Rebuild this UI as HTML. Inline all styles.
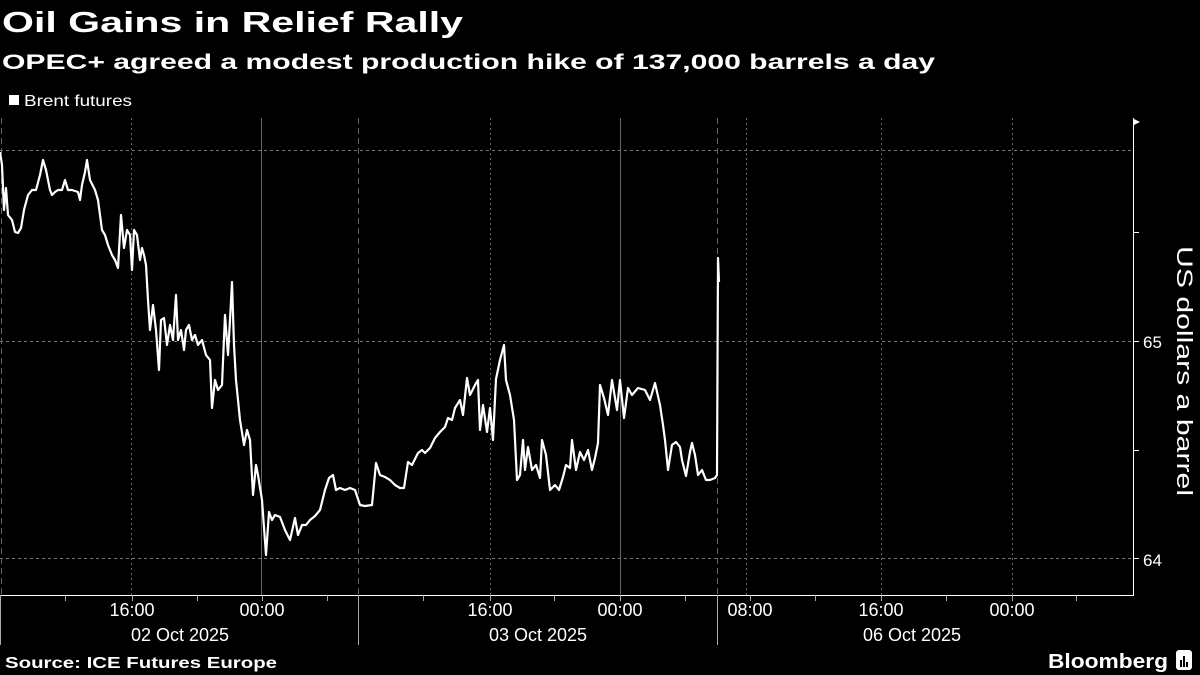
<!DOCTYPE html>
<html><head><meta charset="utf-8"><style>
html,body{margin:0;padding:0;background:#000;}
svg{display:block;font-family:"Liberation Sans",sans-serif;}
</style></head><body>
<svg width="1200" height="675" viewBox="0 0 1200 675" xmlns="http://www.w3.org/2000/svg">
<rect width="1200" height="675" fill="#000"/>
<text x="2" y="32" fill="#fff" font-size="29" font-weight="bold" textLength="461" lengthAdjust="spacingAndGlyphs">Oil Gains in Relief Rally</text>
<text x="2" y="69" fill="#fff" font-size="21" font-weight="bold" textLength="933" lengthAdjust="spacingAndGlyphs">OPEC+ agreed a modest production hike of 137,000 barrels a day</text>
<rect x="9" y="95" width="10" height="10" fill="#fff"/>
<text x="24" y="106" fill="#fff" font-size="16" textLength="108" lengthAdjust="spacingAndGlyphs">Brent futures</text>
<!-- horizontal grid -->
<g stroke="#777" stroke-width="1" stroke-dasharray="3,3">
<line x1="0" y1="150.5" x2="1133" y2="150.5"/>
<line x1="0" y1="341.5" x2="1133" y2="341.5"/>
<line x1="0" y1="558.5" x2="1133" y2="558.5"/>
</g>
<!-- vertical grid -->
<g stroke="#666" stroke-width="1">
<line x1="261.5" y1="118" x2="261.5" y2="595"/>
<line x1="620.5" y1="118" x2="620.5" y2="595"/>
</g>
<g stroke="#666" stroke-width="1" stroke-dasharray="2,3">
<line x1="131.5" y1="118" x2="131.5" y2="595"/>
<line x1="490.5" y1="118" x2="490.5" y2="595"/>
<line x1="746.5" y1="118" x2="746.5" y2="595"/>
<line x1="881.5" y1="118" x2="881.5" y2="595"/>
<line x1="1012.5" y1="118" x2="1012.5" y2="595"/>
</g>
<g stroke="#666" stroke-width="1" stroke-dasharray="6,4">
<line x1="1.5" y1="118" x2="1.5" y2="595"/>
<line x1="358.5" y1="118" x2="358.5" y2="595"/>
<line x1="717.5" y1="118" x2="717.5" y2="595"/>
</g>
<!-- axes -->
<line x1="1133.5" y1="118" x2="1133.5" y2="595" stroke="#fff"/>
<line x1="0" y1="595.5" x2="1134" y2="595.5" stroke="#fff"/>
<path d="M1134 119 L1140 122 L1134 125 Z" fill="#fff"/>
<g stroke="#fff">
<line x1="1133" y1="232.5" x2="1139" y2="232.5"/>
<line x1="1133" y1="341.5" x2="1139" y2="341.5"/>
<line x1="1133" y1="450.5" x2="1139" y2="450.5"/>
<line x1="1133" y1="558.5" x2="1139" y2="558.5"/>
</g>
<text x="1143" y="348" fill="#fff" font-size="17">65</text>
<text x="1143" y="566" fill="#fff" font-size="17">64</text>
<text transform="translate(1177,371) rotate(90)" fill="#fff" font-size="22" text-anchor="middle" textLength="250" lengthAdjust="spacingAndGlyphs">US dollars a barrel</text>
<!-- bottom ticks -->
<g stroke="#aaa">
<line x1="65.5" y1="595" x2="65.5" y2="601"/><line x1="132.5" y1="595" x2="132.5" y2="601"/>
<line x1="197.5" y1="595" x2="197.5" y2="601"/><line x1="262.5" y1="595" x2="262.5" y2="601"/>
<line x1="327.5" y1="595" x2="327.5" y2="601"/><line x1="423.5" y1="595" x2="423.5" y2="601"/>
<line x1="490.5" y1="595" x2="490.5" y2="601"/><line x1="554.5" y1="595" x2="554.5" y2="601"/>
<line x1="620.5" y1="595" x2="620.5" y2="601"/><line x1="685.5" y1="595" x2="685.5" y2="601"/>
<line x1="750.5" y1="595" x2="750.5" y2="601"/><line x1="815.5" y1="595" x2="815.5" y2="601"/>
<line x1="881.5" y1="595" x2="881.5" y2="601"/><line x1="946.5" y1="595" x2="946.5" y2="601"/>
<line x1="1012.5" y1="595" x2="1012.5" y2="601"/><line x1="1076.5" y1="595" x2="1076.5" y2="601"/>
<line x1="358.5" y1="595" x2="358.5" y2="645"/><line x1="717.5" y1="595" x2="717.5" y2="645"/>
<line x1="0.5" y1="595" x2="0.5" y2="645"/>
</g>
<g fill="#fff" font-size="18" text-anchor="middle">
<text x="132" y="616">16:00</text><text x="262" y="616">00:00</text>
<text x="490" y="616">16:00</text><text x="620" y="616">00:00</text>
<text x="750" y="616">08:00</text><text x="881" y="616">16:00</text><text x="1012" y="616">00:00</text>
<text x="180" y="641">02 Oct 2025</text><text x="538" y="641">03 Oct 2025</text><text x="912" y="641">06 Oct 2025</text>
</g>
<text x="5" y="668" fill="#fff" font-size="16" font-weight="bold" textLength="272" lengthAdjust="spacingAndGlyphs">Source: ICE Futures Europe</text>
<text x="1048" y="668" fill="#fff" font-size="20" font-weight="bold" textLength="120" lengthAdjust="spacingAndGlyphs">Bloomberg</text>
<rect x="1176" y="650" width="16" height="20" rx="3" fill="#fff"/>
<g stroke="#000" stroke-width="2"><line x1="1181" y1="667" x2="1181" y2="660"/><line x1="1184" y1="667" x2="1184" y2="656"/><line x1="1187" y1="667" x2="1187" y2="662"/></g>
<!-- series -->
<polyline fill="none" stroke="#fff" stroke-width="2.2" stroke-linejoin="round" points="0,152 2,165 4,210 6,188 8,215 12,220 15,232 18,233 21,228 24,210 28,195 32,190 36,190 40,175 43,160 46,170 50,190 52,195 55,192 58,190 62,190 65,180 68,190 72,190 78,192 80,200 82,185 85,172 87,160 90,180 95,190 98,200 100,215 102,230 105,235 108,245 110,250 112,255 115,260 118,268 121,215 124,248 127,230 130,235 132,270 134,230 137,235 140,260 142,248 144,255 146,265 148,300 150,330 153,305 156,330 159,370 161,320 164,318 167,345 170,325 173,340 176,295 178,340 181,330 184,350 186,330 189,325 192,340 195,335 198,345 202,340 206,355 210,360 212,408 215,380 218,390 222,385 225,315 228,355 230,320 232,282 234,345 236,380 240,420 244,445 247,430 250,440 253,495 256,465 258,475 262,500 266,555 269,512 272,520 275,515 280,517 285,530 290,540 295,518 298,535 302,525 306,525 310,520 315,516 320,510 325,490 329,478 333,475 336,490 340,488 345,490 350,488 355,490 360,505 365,506 372,505 376,463 380,475 385,477 390,480 395,485 400,488 404,488 408,462 412,465 418,453 422,450 425,453 430,448 435,438 440,432 445,427 448,418 452,420 455,408 460,400 463,415 467,378 470,395 475,385 478,380 480,430 483,405 487,432 490,408 493,440 496,379 500,360 504,345 506,380 510,395 514,420 517,480 520,475 523,440 525,470 528,447 532,470 536,465 540,478 542,440 546,455 550,490 555,485 559,490 563,477 566,465 570,468 572,440 576,470 580,452 584,460 588,450 592,470 595,458 598,443 600,385 604,398 608,415 612,380 617,410 620,380 624,418 628,388 632,395 638,388 645,390 650,400 655,383 660,405 663,425 665,440 668,470 672,445 676,442 680,447 682,460 686,476 690,452 692,443 695,455 698,475 702,470 706,480 710,480 715,478 717,475 718,258 719,282"/>
</svg>
</body></html>
